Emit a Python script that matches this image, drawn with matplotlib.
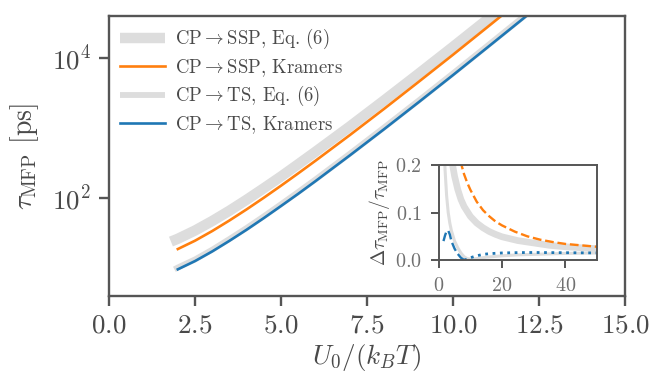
import matplotlib
matplotlib.use("Agg")
import matplotlib.pyplot as plt
from matplotlib.ticker import NullLocator

# fonts: computer modern look
plt.rcParams["font.family"] = "serif"
plt.rcParams["font.serif"] = ["cmr10", "DejaVu Serif"]
plt.rcParams["mathtext.fontset"] = "cm"
plt.rcParams["axes.formatter.use_mathtext"] = True

SPINE = "#555555"
TEXT = "#4a4a4a"
GREY = "#dddddd"
ORANGE = "#ff7f0e"
BLUE = "#1f77b4"

# main panel: tau_MFP [ps] vs U0/(kBT)
u_ssp_eq6 = [1.8, 2, 2.5, 3, 3.5, 4, 4.5, 5, 5.5, 6, 7, 8, 9, 10, 11, 12]
tau_ssp_eq6 = [23.9, 26.2, 34.4, 47.0, 65.9, 94.6, 138, 203, 304, 457,
               1050, 2480, 5940, 14400, 35400, 87900]

u_ssp_kr = [2, 2.5, 3, 3.5, 4, 4.5, 5, 5.5, 6, 7, 8, 9, 10, 11, 12]
tau_ssp_kr = [18.7, 24.6, 33.8, 47.8, 68.9, 101, 150, 225, 340,
              791, 1880, 4550, 11100, 27500, 68500]

u_ts_eq6 = [1.9, 2, 2.5, 3, 3.5, 4, 4.5, 5, 5.5, 6, 7, 8, 9, 10, 11, 12, 13]
tau_ts_eq6 = [9.6, 10.2, 13.3, 18.3, 26.0, 37.4, 54.9, 81.5, 122, 184,
              429, 1020, 2460, 6020, 14900, 37100, 93100]

u_ts_kr = [2, 2.5, 3, 3.5, 4, 4.5, 5, 5.5, 6, 7, 8, 9, 10, 11, 12, 13]
tau_ts_kr = [9.6, 12.6, 17.3, 24.5, 35.3, 51.8, 77, 115, 174,
             406, 964, 2330, 5690, 14100, 35100, 88100]

# inset: relative deviation
ins_u_ssp_eq6 = [4, 4.5, 5, 6, 7, 8, 10, 12, 14, 16, 18, 20, 25, 30, 35, 40, 45, 50]
ins_d_ssp_eq6 = [0.22, 0.196, 0.177, 0.149, 0.128, 0.113, 0.092, 0.078, 0.068, 0.060,
                 0.054, 0.049, 0.041, 0.036, 0.031, 0.028, 0.026, 0.024]

ins_u_ts_eq6 = [1.6, 2, 2.5, 3, 3.5, 4, 5, 6, 7, 8, 9, 10, 12, 15, 20, 25, 30, 40, 50]
ins_d_ts_eq6 = [0.26, 0.19, 0.135, 0.10, 0.078, 0.062, 0.040, 0.026, 0.015, 0.007,
                0.003, 0.002, 0.003, 0.006, 0.009, 0.011, 0.012, 0.014, 0.015]

ins_u_ssp_kr = [6, 7, 8, 9, 10, 12, 14, 16, 18, 20, 24, 28, 32, 36, 40, 45, 50]
ins_d_ssp_kr = [0.235, 0.205, 0.181, 0.163, 0.148, 0.123, 0.105, 0.092, 0.081, 0.073,
                0.060, 0.050, 0.043, 0.038, 0.034, 0.031, 0.028]

ins_u_ts_kr_pos = [1.5, 2, 2.5, 3, 3.5, 4, 5, 6, 7, 8]
ins_d_ts_kr_pos = [0.040, 0.052, 0.061, 0.062, 0.054, 0.040, 0.024, 0.013, 0.005, 0.0]

ins_u_ts_kr_neg = [8, 9, 10, 12, 14, 16, 20, 25, 30, 40, 50]
ins_d_ts_kr_neg = [0.0, 0.002, 0.005, 0.009, 0.012, 0.0135, 0.015, 0.0157, 0.016, 0.0155, 0.015]

fig = plt.figure(figsize=(6.49, 3.78), dpi=100)
ax = fig.add_axes([0.168, 0.217, 0.795, 0.741])

ax.plot(u_ssp_eq6, tau_ssp_eq6, color=GREY, lw=7.5, solid_capstyle="butt",
        label=r"CP$\rightarrow$SSP, Eq. (6)")
ax.plot(u_ssp_kr, tau_ssp_kr, color=ORANGE, lw=1.9, label=r"CP$\rightarrow$SSP, Kramers")
ax.plot(u_ts_eq6, tau_ts_eq6, color=GREY, lw=4.2, solid_capstyle="butt",
        label=r"CP$\rightarrow$TS, Eq. (6)")
ax.plot(u_ts_kr, tau_ts_kr, color=BLUE, lw=1.9, label=r"CP$\rightarrow$TS, Kramers")

ax.set_yscale("log")
ax.set_xlim(0, 15)
ax.set_ylim(4.0, 39800)
ax.set_yticks([1e2, 1e4])
ax.yaxis.set_minor_locator(NullLocator())
ax.set_xticks([0, 2.5, 5, 7.5, 10, 12.5, 15])

for sp in ["top", "right", "left", "bottom"]:
    ax.spines[sp].set_color(SPINE)
    ax.spines[sp].set_linewidth(1.7)
ax.tick_params(axis="both", which="major", length=7, width=1.7, color=SPINE,
               labelsize=19.5, labelcolor=TEXT, pad=6)

ax.set_xlabel(r"$U_0/(k_BT)$", fontsize=19.5, color=TEXT, labelpad=3)
ax.set_ylabel(r"$\tau_\mathrm{MFP}$ [ps]", fontsize=20, color=TEXT, labelpad=8)

leg = ax.legend(loc="upper left", frameon=False, fontsize=13.5, handlelength=2.4,
                handletextpad=0.5, borderaxespad=0.2, labelspacing=0.3)
for t in leg.get_texts():
    t.set_color(TEXT)

# inset
ins = fig.add_axes([0.676, 0.312, 0.244, 0.251])
ins.plot(ins_u_ssp_eq6, ins_d_ssp_eq6, color=GREY, lw=4.8)
ins.plot(ins_u_ts_eq6, ins_d_ts_eq6, color=GREY, lw=2.2)
ins.plot(ins_u_ssp_kr, ins_d_ssp_kr, color=ORANGE, lw=1.7, ls="--")
ins.plot(ins_u_ts_kr_pos, ins_d_ts_kr_pos, color=BLUE, lw=1.7, ls="--")
ins.plot(ins_u_ts_kr_neg, ins_d_ts_kr_neg, color=BLUE, lw=2.0, ls=":")

ins.set_xlim(0, 50)
ins.set_ylim(0, 0.2)
ins.set_xticks([0, 20, 40])
ins.set_yticks([0.0, 0.1, 0.2])
for sp in ["top", "right", "left", "bottom"]:
    ins.spines[sp].set_color(SPINE)
    ins.spines[sp].set_linewidth(1.4)
ins.tick_params(axis="both", length=6, width=1.4, color=SPINE,
                labelsize=14.5, labelcolor="#707070", pad=6)
ins.set_ylabel(r"$\Delta\tau_\mathrm{MFP}/\tau_\mathrm{MFP}$", fontsize=14,
               color=TEXT, labelpad=2)

fig.savefig("out.png", dpi=100)
